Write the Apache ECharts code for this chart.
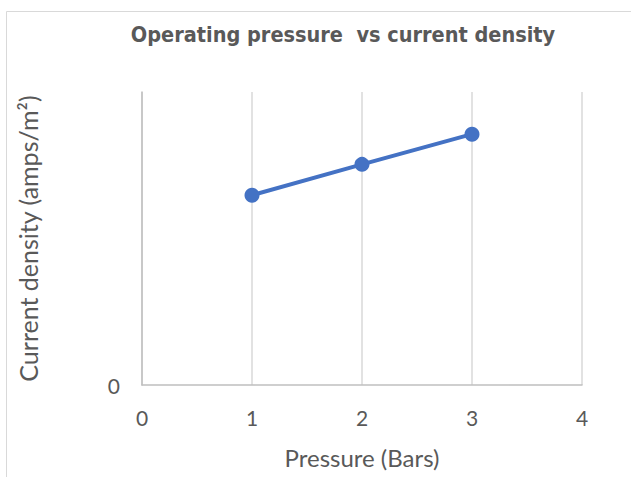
<!DOCTYPE html>
<html>
<head>
<meta charset="utf-8">
<script src="https://cdn.jsdelivr.net/npm/echarts@6/dist/echarts.min.js"></script>
<style>
  html, body { margin: 0; padding: 0; background: #fff; }
  #chart { width: 631px; height: 477px; }
</style>
</head>
<body>
<div id="chart"></div>
<script>
// ─── data ───
const pressure = [1, 2, 3];
const currentDensity = [64.8, 75.3, 85.6];
const xTicks = [0, 1, 2, 3, 4];

const TEXT = '#595959';
const GRID = '#d9d9d9';
const AXIS = '#bfbfbf';
const FONT = "Lato, 'Liberation Sans', sans-serif";
const TITLE_FONT = "'DejaVu Sans Condensed', 'Liberation Sans', sans-serif";

const chart = echarts.init(document.getElementById('chart'), null, { renderer: 'svg' });

chart.setOption({
  backgroundColor: '#ffffff',
  animation: false,
  textStyle: { fontFamily: FONT, color: TEXT },
  title: {
    text: 'Operating pressure  vs current density',
    left: 338, top: 18, textAlign: 'center',
    textStyle: { fontFamily: TITLE_FONT, fontSize: 21.5, fontWeight: 'bold', color: TEXT },
  },
  graphic: [{
    type: 'rect',
    shape: { x: 6.5, y: 11.5, width: 640, height: 480 },
    style: { fill: 'none', stroke: GRID, lineWidth: 1 },
    silent: true,
  }],
  grid: { left: 142, right: 49, top: 92, bottom: 92 },
  xAxis: {
    type: 'value',
    min: xTicks[0], max: xTicks[xTicks.length - 1], interval: 1,
    name: 'Pressure (Bars)',
    nameLocation: 'middle',
    nameGap: 60,
    nameTextStyle: { fontFamily: FONT, fontSize: 24, color: TEXT },
    axisLabel: { fontFamily: FONT, fontSize: 21, color: TEXT, margin: 22 },
    axisLine: { show: true, lineStyle: { color: AXIS, width: 1.5 } },
    axisTick: { show: false },
    splitLine: { show: true, lineStyle: { color: GRID, width: 1.5 } },
  },
  yAxis: {
    type: 'value',
    min: 0, max: 100, interval: 100,
    name: 'Current density (amps/m²)',
    nameLocation: 'middle',
    nameGap: 102,
    nameTextStyle: { fontFamily: FONT, fontSize: 25, color: TEXT },
    axisLabel: {
      fontFamily: FONT, fontSize: 21, color: TEXT, margin: 22,
      formatter: (v) => (v === 0 ? '0' : ''),
    },
    axisLine: { show: true, lineStyle: { color: AXIS, width: 1.5 } },
    axisTick: { show: false },
    splitLine: { show: false },
  },
  series: [{
    type: 'line',
    data: pressure.map((p, i) => [p, currentDensity[i]]),
    symbol: 'circle',
    symbolSize: 15,
    lineStyle: { color: '#4472c4', width: 4 },
    itemStyle: { color: '#4472c4' },
  }],
});
</script>
</body>
</html>
